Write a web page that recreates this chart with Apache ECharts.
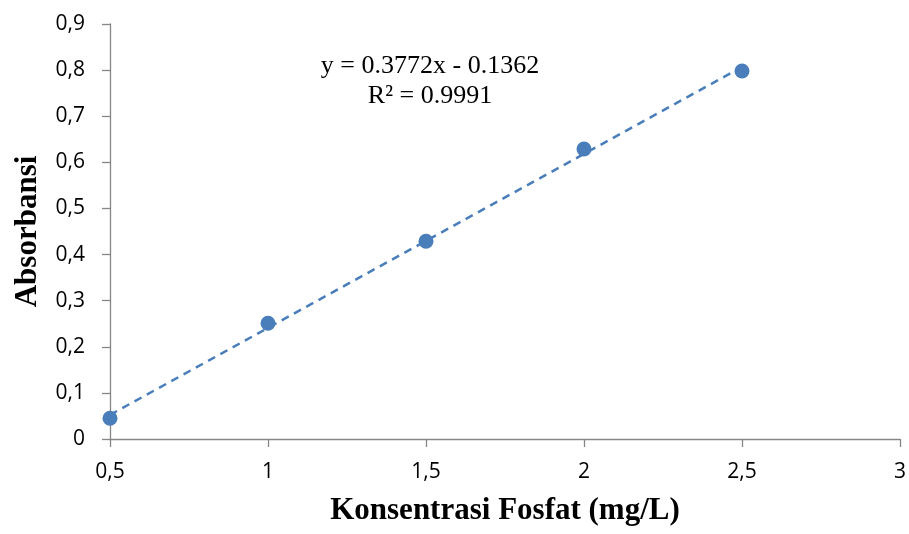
<!DOCTYPE html>
<html><head><meta charset="utf-8">
<script src="https://cdn.jsdelivr.net/npm/echarts@6/dist/echarts.min.js"></script>
<style>html,body{margin:0;padding:0;background:#fff}#c{width:909px;height:534px}</style>
</head><body><div id="c"></div>
<script>
const concX = [0.5, 1, 1.5, 2, 2.5];
const absY = [0.045, 0.251, 0.429, 0.629, 0.798];
const trendX = [0.5, 2.5];
const trendY = [0.0524, 0.8068];
const eqLines = ['y = 0.3772x - 0.1362', 'R² = 0.9991'];
const xName = 'Konsentrasi Fosfat (mg/L)';
const yName = 'Absorbansi';

const chart = echarts.init(document.getElementById('c'));
const axisCol = '#868686';
const lblFont = {fontFamily: 'Open Sans', fontSize: 21, color: '#000'};
chart.setOption({
  animation: false,
  grid: {left: 110, right: 9, top: 24, bottom: 95, containLabel: false},
  xAxis: {
    type: 'value', min: 0.5, max: 3, interval: 0.5,
    axisLine: {lineStyle: {color: axisCol, width: 1.3}},
    axisTick: {show: true, length: 8, lineStyle: {color: axisCol, width: 1.3}},
    splitLine: {show: false},
    axisLabel: Object.assign({margin: 23, formatter: v => String(v).replace('.', ',')}, lblFont),
    name: xName, nameLocation: 'middle', nameGap: 72,
    nameTextStyle: {fontFamily: 'Liberation Serif', fontWeight: 'bold', fontSize: 31, color: '#000', verticalAlign: 'middle'}
  },
  yAxis: {
    type: 'value', min: 0, max: 0.9, interval: 0.1,
    axisLine: {show: true, lineStyle: {color: axisCol, width: 1.3}},
    axisTick: {show: true, length: 8, lineStyle: {color: axisCol, width: 1.3}},
    splitLine: {show: false},
    axisLabel: Object.assign({margin: 25, formatter: v => String(Math.round(v*10)/10).replace('.', ',')}, lblFont),
    name: yName, nameLocation: 'middle', nameGap: 82,
    nameTextStyle: {fontFamily: 'Liberation Serif', fontWeight: 'bold', fontSize: 31, color: '#000', verticalAlign: 'middle'}
  },
  series: [
    {
      type: 'line', data: trendX.map((x, i) => [x, trendY[i]]),
      symbol: 'none', lineStyle: {color: '#4a7ebb', width: 2.5, type: [8, 6]}, z: 1
    },
    {
      type: 'scatter', data: concX.map((x, i) => [x, absY[i]]),
      symbolSize: 15, itemStyle: {color: '#4a7ebb', opacity: 1}, z: 2
    }
  ],
  graphic: [
    {type: 'text', style: {text: eqLines.join('\n'), x: 430, y: 51, textAlign: 'center', font: '26px "Liberation Serif"', lineHeight: 30, fill: '#000'}}
  ]
});
</script></body></html>
